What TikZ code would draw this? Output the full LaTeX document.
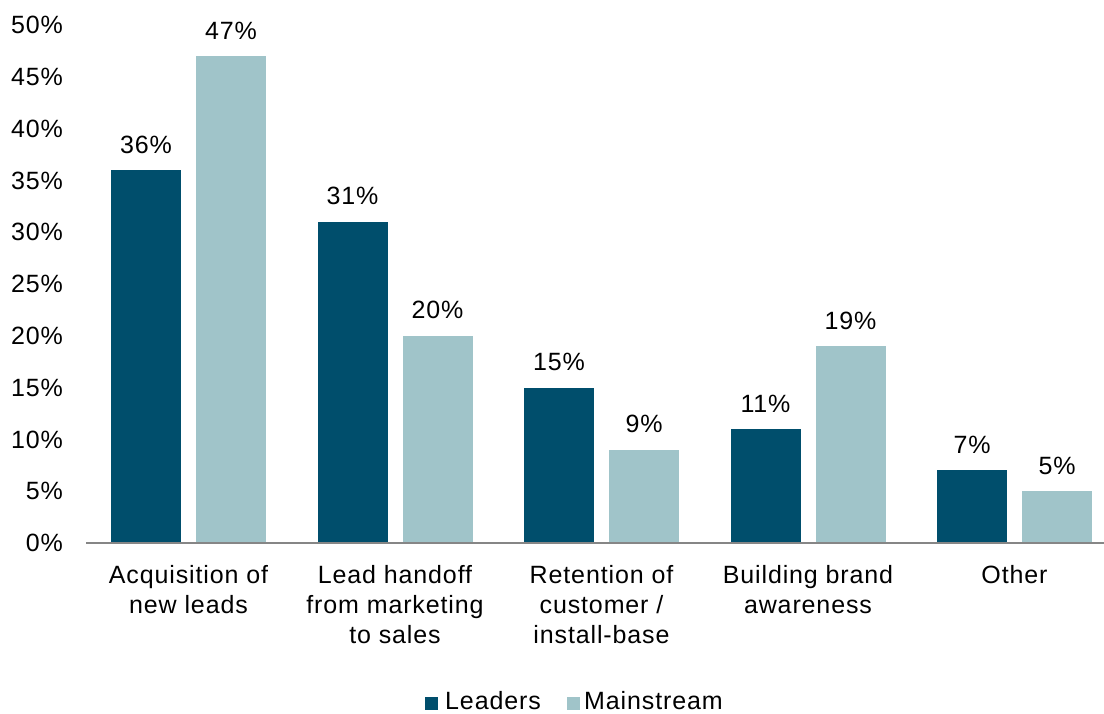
\documentclass[tikz,border=0pt]{standalone}
\usepackage{fontspec}
\setmainfont{Liberation Sans}[LetterSpace=3.5]
\usetikzlibrary{positioning}
\newcommand{\PctScale}{10.36}
\newcommand{\AxisY}{170}
\newcommand{\GroupGap}{206.5}
\newcommand{\BarWidth}{70}
\newcommand{\FirstBar}{146}
\newcommand{\PairGap}{85}
\newcommand{\LabelLift}{17}
\newcommand{\KeySize}{13}
\definecolor{LeaderBlue}{RGB}{0, 78, 108}
\definecolor{MainTeal}{RGB}{160, 196, 201}
\definecolor{AxisGray}{RGB}{134, 134, 134}

\begin{document}
\begin{tikzpicture}[x=1pt,y=1pt]
  \tikzstyle{every node}=[font=\fontsize{25}{30}\selectfont, inner sep=0pt, text=black]
  \useasboundingbox (0,0) rectangle (1104,713);

  % Value axis labels
  \foreach \v in {0,5,...,50}
    \node[anchor=east] (tick\v) at (63,{\AxisY+\v*\PctScale}) {\v\%};

  % Bars and their labels
  \foreach \lead/\main/\cat [count=\i from 0] in {
      36/47/{Acquisition of\\new leads},
      31/20/{Lead handoff\\from marketing\\to sales},
      15/9/{Retention of\\customer /\\install-base},
      11/19/{Building brand\\awareness},
      7/5/{Other}}{
    \pgfmathsetmacro{\xl}{\FirstBar+\i*\GroupGap}
    \pgfmathsetmacro{\xm}{\xl+\PairGap}
    \fill[LeaderBlue] ({\xl-.5*\BarWidth},\AxisY) rectangle ++(\BarWidth,{\lead*\PctScale});
    \fill[MainTeal]   ({\xm-.5*\BarWidth},\AxisY) rectangle ++(\BarWidth,{\main*\PctScale});
    \node[anchor=base] (lval\i) at (\xl,{\AxisY+\lead*\PctScale+\LabelLift}) {\lead\%};
    \node[anchor=base] (mval\i) at (\xm,{\AxisY+\main*\PctScale+\LabelLift}) {\main\%};
    \node[anchor=north, align=center] (cat\i) at ({\xl+.5*\PairGap},148) {\cat};
  }

  % Category axis
  \draw[AxisGray, line width=1.5pt] (86,\AxisY) -- (1104,\AxisY);

  % Legend
  \fill[LeaderBlue] (425,3) rectangle ++(\KeySize,\KeySize);
  \node[anchor=base west] (legLead) at (445,4) {Leaders};
  \fill[MainTeal] (567,3) rectangle ++(\KeySize,\KeySize);
  \node[anchor=base west] (legMain) at (584,4) {Mainstream};
\end{tikzpicture}
\end{document}
